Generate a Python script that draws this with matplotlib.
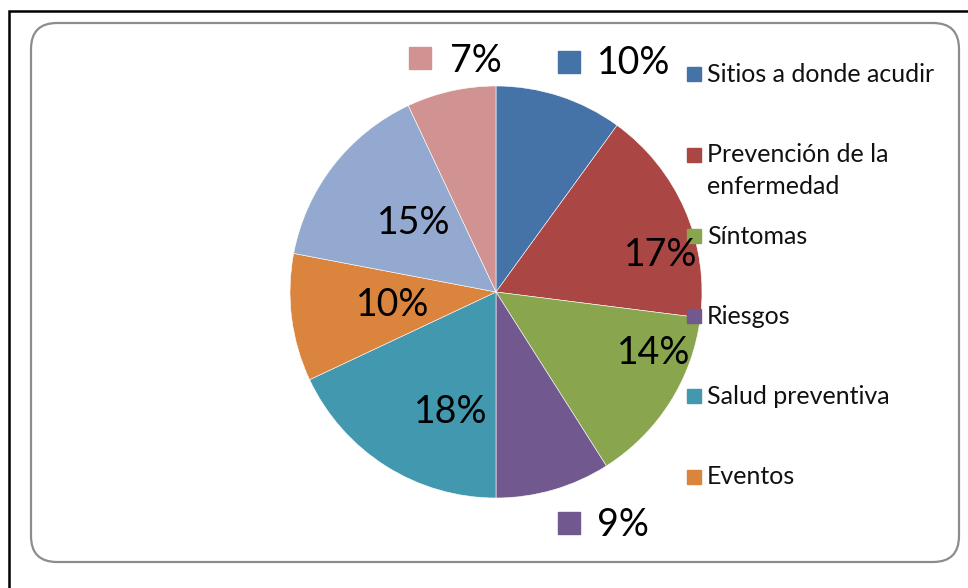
import matplotlib
matplotlib.use("Agg")
import matplotlib.pyplot as plt
from matplotlib.patches import FancyBboxPatch

# Slice shares (%) in drawing order, clockwise from 12 o'clock
values = [10, 17, 14, 9, 18, 10, 15, 7]
colors = ["#4572A7", "#AA4643", "#89A54E", "#71588F",
          "#4198AF", "#DB843D", "#93A9CF", "#D19392"]
# Legend entries shown in the side panel
categories = ["Sitios a donde acudir", "Prevención de la\nenfermedad",
              "Síntomas", "Riesgos", "Salud preventiva", "Eventos"]

W, H = 968, 588
FONT = ["Lato", "DejaVu Sans"]

fig = plt.figure(figsize=(W / 100, H / 100), dpi=100)
ax = fig.add_axes([0, 0, 1, 1])

# pie in pixel-like data coordinates (y measured from the bottom)
cx, cy, r = 496, H - 292, 206
ax.pie(values, colors=colors, startangle=90, counterclock=False,
       center=(cx, cy), radius=r,
       wedgeprops=dict(edgecolor="white", linewidth=0.4))
ax.set_xlim(0, W)
ax.set_ylim(0, H)
ax.set_aspect("equal")
ax.axis("off")

# percentage labels: (x, y) from the top-left, and where a colour key is shown
label_pos = [(634, 63), (661, 255), (654, 353), (623, 525),
             (451, 412), (393, 305), (414, 223), (476, 61)]
key_pos = {0: (569, 62), 3: (569, 523), 7: (420, 58)}

for i, (v, (lx, ly)) in enumerate(zip(values, label_pos)):
    ax.text(lx, H - ly, f"{v}%", ha="center", va="center",
            fontsize=27, family=FONT, color="black")
    if i in key_pos:
        kx, ky = key_pos[i]
        ax.plot(kx, H - ky, marker="s", markersize=16,
                color=colors[i], markeredgecolor=colors[i], linestyle="none")

# side legend
legend_y = [74, 155, 236, 316, 396, 477]
line_step = 31
for name, col, ly in zip(categories, colors, legend_y):
    ax.plot(694, H - ly, marker="s", markersize=10, color=col,
            markeredgecolor=col, linestyle="none")
    for k, part in enumerate(name.split("\n")):
        ax.text(707, H - (ly + k * line_step), part, ha="left", va="center",
                fontsize=18, family=FONT, color="#111111")

# rounded chart frame
pad = 26
frame = FancyBboxPatch((31 + pad, H - 562 + pad), 959 - 31 - 2 * pad,
                       562 - 23 - 2 * pad,
                       boxstyle=f"round,pad={pad}", facecolor="none",
                       edgecolor="#8c8c8c", linewidth=1.6, zorder=0)
ax.add_patch(frame)

# outer black border
ax.plot([9, 9, W + 5], [-5, H - 11, H - 11], color="black", linewidth=1.8,
        solid_joinstyle="miter")

fig.savefig("out.png", dpi=100)
